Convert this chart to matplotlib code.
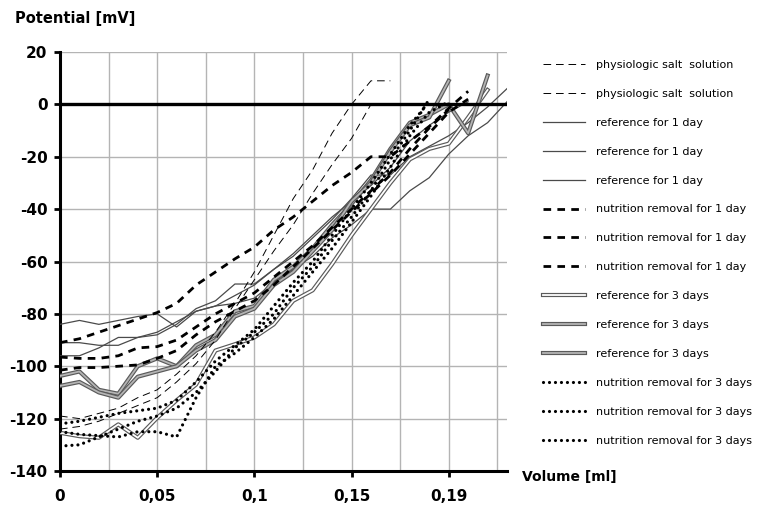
import numpy as np
import matplotlib
matplotlib.use('Agg')
import matplotlib.pyplot as plt
import matplotlib.patheffects as pe
from matplotlib.ticker import FixedLocator

plt.rcParams['axes.unicode_minus'] = False
plt.rcParams['lines.scale_dashes'] = False

# ---- data ----
volume = [0.00, 0.01, 0.02, 0.03, 0.04, 0.05, 0.06, 0.07, 0.08, 0.09, 0.10, 0.11,
          0.12, 0.13, 0.14, 0.15, 0.16, 0.17, 0.18, 0.19, 0.20, 0.21, 0.22, 0.23]

pss_1 = [-119, -120, -118, -116, -112, -109, -103, -96, -87, -76, -64, -50, -36, -25, -11, 0, 9, 9]
pss_2 = [-124, -123, -121, -118, -115, -112, -106, -99, -90, -78, -67, -56, -46, -34, -23, -13, 0]

ref1_a = [-84, -82.5, -84, -82.5, -81, -80, -85, -79, -77, -73, -69, -63, -57, -50, -43, -37, -31, -24, -14, -8, -3, 1]
ref1_b = [-91, -91, -92, -92, -89, -88, -84, -78, -75, -68.6, -68.6, -63, -58, -51, -44, -36, -27, -27, -20, -16, -12, -7, -1, 6]
ref1_c = [-96, -96, -93, -89, -89, -87, -83, -79, -77, -76, -74, -68, -63, -58, -51, -46, -40, -40, -33, -28, -19, -12, -7, 1]

nr1_a = [-91, -89.5, -87, -84.5, -82, -79.5, -76, -69, -64, -59, -54.5, -48, -43, -37, -31, -26, -20, -20, -14, -8.5, -1.5, 5]
nr1_b = [-96.5, -97, -97, -96, -93, -92.5, -90, -85, -80, -76, -72, -66, -60, -54, -47, -40, -33, -26, -17, -9, -2]
nr1_c = [-101.5, -100.5, -100.5, -100, -99.5, -97, -94, -88, -83, -79, -75, -69, -62, -55, -48, -41, -34, -27, -19, -11, -3, 2]

ref3_a = [-125.4, -126.7, -127.3, -122.2, -127.3, -119.7, -113, -107, -94, -91.6, -89, -84, -75, -71, -61, -50, -40, -30, -21, -17, -15, -5, 5.5]
ref3_b = [-103.7, -102, -109, -110.5, -100, -97, -100, -92, -88, -79, -77, -67, -62, -55, -46, -38, -29, -17, -7, -4, 0, -11, 11]
ref3_c = [-107.5, -106, -110, -112, -104, -102, -100, -94, -90, -81, -78, -69, -64, -56, -48, -37, -30, -18, -8, -5, 9]

nr3_a = [-130.5, -130, -127, -124, -121, -119, -116, -110, -102, -93, -87, -80, -70, -62, -52, -43, -33, -21, -10, 2]
nr3_b = [-125, -126, -126.5, -127, -125, -125, -127, -112, -100, -95, -89, -82, -73, -64, -55, -45, -35, -24, -12, -3, 1]
nr3_c = [-122, -121, -119.5, -118, -117, -116, -113, -106, -98, -92, -86, -77, -68, -60, -50, -40, -30, -19, -8, 1]

labels = ['physiologic salt  solution', 'physiologic salt  solution',
          'reference for 1 day', 'reference for 1 day', 'reference for 1 day',
          'nutrition removal for 1 day', 'nutrition removal for 1 day', 'nutrition removal for 1 day',
          'reference for 3 days', 'reference for 3 days', 'reference for 3 days',
          'nutrition removal for 3 days', 'nutrition removal for 3 days', 'nutrition removal for 3 days']

xtick_vals = [0, 0.05, 0.10, 0.15, 0.20]
xtick_labels = ['0', '0,05', '0,1', '0,15', '0,19']

# ---- figure ----
W, H = 766, 509
fig = plt.figure(figsize=(W / 100, H / 100), dpi=100)
ax = fig.add_axes([60 / W, 1 - 471 / H, (507 - 60) / W, (471 - 52) / H])

series = [pss_1, pss_2, ref1_a, ref1_b, ref1_c, nr1_a, nr1_b, nr1_c,
          ref3_a, ref3_b, ref3_c, nr3_a, nr3_b, nr3_c]

handles = []
for k, s in enumerate(series):
    xs = volume[:len(s)]
    if k < 2:
        h, = ax.plot(xs, s, color='black', lw=0.7, linestyle=(0, (5.5, 3.5)), zorder=4)
    elif k < 5:
        h, = ax.plot(xs, s, color='#4a4a4a', lw=0.9, zorder=3)
    elif k < 8:
        h, = ax.plot(xs, s, color='black', lw=2.0, linestyle=(0, (5.5, 4.5)), zorder=4)
    elif k < 11:
        inner = '#ffffff' if k == 8 else '#b4b4b4'
        h, = ax.plot(xs, s, color=inner, lw=1.3, zorder=3,
                     path_effects=[pe.Stroke(linewidth=3.0, foreground='#5a5a5a'), pe.Normal()])
    else:
        h, = ax.plot(xs, s, color='black', lw=2.3, linestyle=(0, (0.01, 4.3)),
                     dash_capstyle='round', zorder=4)
    handles.append(h)

ax.axhline(0, color='black', lw=2.4, zorder=5)

ax.set_xlim(0, 0.23)
ax.set_ylim(-140, 20)
ax.xaxis.set_major_locator(FixedLocator(xtick_vals))
ax.set_xticklabels(xtick_labels)
ax.xaxis.set_minor_locator(FixedLocator([0.025, 0.075, 0.125, 0.175, 0.225]))
ax.set_yticks(np.arange(-140, 21, 20))
ax.grid(True, which='both', color='#b4b4b4', lw=1.0, zorder=0)
ax.set_axisbelow(True)

for sp in ['top', 'right']:
    ax.spines[sp].set_visible(False)
for sp in ['left', 'bottom']:
    ax.spines[sp].set_linewidth(2.2)
    ax.spines[sp].set_color('black')

ax.tick_params(axis='both', which='major', direction='out', length=4, width=2.0,
               labelsize=11, colors='black')
ax.tick_params(axis='x', which='minor', length=0)
ax.tick_params(axis='x', pad=9)
ax.tick_params(axis='y', pad=5)
for lab in ax.get_xticklabels() + ax.get_yticklabels():
    lab.set_fontweight('bold')

fig.text(15 / W, 1 - 18 / H, 'Potential [mV]', fontsize=10.5, fontweight='bold',
         ha='left', va='center')
fig.text(522 / W, 1 - 477 / H, 'Volume [ml]', fontsize=10, fontweight='bold',
         ha='left', va='center')

leg = fig.legend(handles, labels, loc='upper left', bbox_to_anchor=(543 / W, 1 - 60 / H),
                 frameon=False, fontsize=8, handlelength=3.8, handletextpad=1.0,
                 labelspacing=1.70, borderpad=0, borderaxespad=0)

fig.savefig('out.png', dpi=100)
